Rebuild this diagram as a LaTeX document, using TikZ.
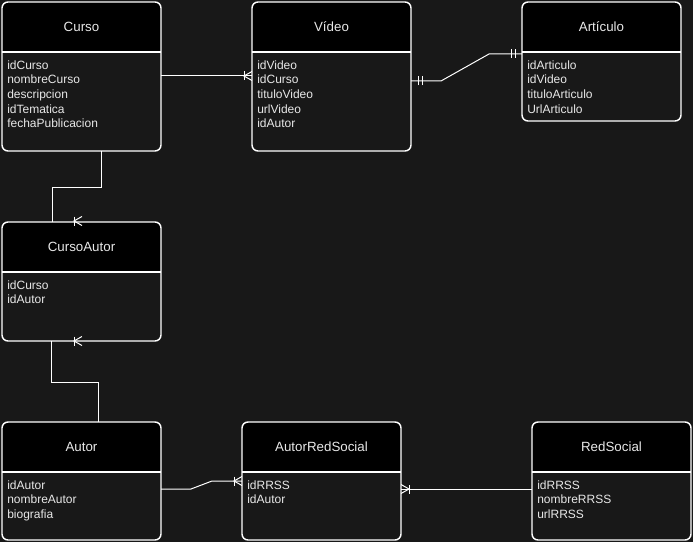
\documentclass[tikz,border=0pt]{standalone}
\usepackage{fontspec}
\setmainfont{Liberation Sans}
\usetikzlibrary{calc}
\definecolor{bgdark}{HTML}{181818}
\definecolor{txtlight}{HTML}{E8E8E8}
\tikzset{
	entbox/.style={minimum width=119.25pt, inner sep=0pt, outer sep=0pt, anchor=north west},
	entline/.style={draw=white, line width=1.1pt, rounded corners=4.5pt},
	enttitle/.style={text=txtlight, font=\fontsize{10}{12}\selectfont, inner sep=0pt},
	entattr/.style={text=txtlight, font=\fontsize{9}{10.9}\selectfont, align=left, inner sep=0pt, anchor=north west},
	rel/.style={draw=white, line width=0.75pt},
	pics/onemany/.style={code={\draw[rel] (-8,-4.5) -- (-8,4.5); \draw[rel] (0,-4.5) -- (-8,0) -- (0,4.5);}},
	pics/mandone/.style={code={\draw[rel] (-7,-4.5) -- (-7,4.5); \draw[rel] (-11,-4.5) -- (-11,4.5);}}
}
% #1 name, #2 x, #3 y, #4 height (px), #5 title, #6 attributes
\newcommand{\entity}[6]{
	\node[entbox, minimum height=#4*0.75pt] (#1) at (#2,#3) {};
	\fill[bgdark, rounded corners=4.5pt] (#1.north west) rectangle (#1.south east);
	\begin{scope}
		\clip[rounded corners=4.5pt] (#1.north west) rectangle (#1.south east);
		\fill[black] (#1.north west) rectangle ($(#1.north east)+(0,50)$);
	\end{scope}
	\draw[entline] (#1.north west) rectangle (#1.south east);
	\draw[white, line width=1.1pt] ($(#1.north west)+(0,50)$) -- ($(#1.north east)+(0,50)$);
	\node[enttitle] (#1-title) at ($(#1.north)+(0,25)$) {#5};
	\node[entattr] (#1-attrs) at ($(#1.north west)+(5,58.5)$) {#6};
}

\begin{document}
\begin{tikzpicture}[x=0.75pt, y=-0.75pt]
	%%%%% START %%%%%
	\fill[bgdark] (0,0) rectangle (693,542);
	\useasboundingbox (0,0) rectangle (693,542);

	\entity{curso}{2}{2}{149}{Curso}{idCurso\\nombreCurso\\descripcion\\idTematica\\fechaPublicacion}
	\entity{video}{252}{2}{149}{Vídeo}{idVideo\\idCurso\\tituloVideo\\urlVideo\\idAutor}
	\entity{articulo}{522}{2}{119}{Artículo}{idArticulo\\idVideo\\tituloArticulo\\UrlArticulo}
	\entity{cursoautor}{2}{222}{119}{CursoAutor}{idCurso\\idAutor}
	\entity{autor}{2}{422}{118}{Autor}{idAutor\\nombreAutor\\biografia}
	\entity{autorred}{242}{422}{118}{AutorRedSocial}{idRRSS\\idAutor}
	\entity{redsocial}{532}{422}{118}{RedSocial}{idRRSS\\nombreRRSS\\urlRRSS}

	% Curso - Video
	\draw[rel] ($(curso.north east)+(0,74)$) -- ($(video.north west)+(0,74)$);
	\pic at ($(video.north west)+(0,74)$) {onemany};

	% Video - Articulo
	\draw[rel] ($(video.north east)+(0,79)$) -- ++(30,0) -- ($(articulo.north west)+(-33,52)$) -- ($(articulo.north west)+(0,52)$);
	\pic[rotate=180] at ($(video.north east)+(0,79)$) {mandone};
	\pic at ($(articulo.north west)+(0,52)$) {mandone};

	% Curso - CursoAutor
	\draw[rel] ($(curso.south)+(19.5,0)$) -- ++(0,36) -| ($(cursoautor.north west)+(50,0)$);
	\pic at ($(cursoautor.north west)+(80,-1)$) {onemany};

	% CursoAutor - Autor
	\draw[rel] ($(cursoautor.south west)+(49,0)$) -- ++(0,41) -| ($(autor.north west)+(96,0)$);
	\pic at ($(cursoautor.south west)+(80,0)$) {onemany};

	% Autor - AutorRedSocial
	\draw[rel] ($(autor.north east)+(0,67)$) -- ++(30,0) -- ($(autorred.north west)+(-30,59)$) -- ($(autorred.north west)+(0,59)$);
	\pic at ($(autorred.north west)+(0,59)$) {onemany};

	% AutorRedSocial - RedSocial
	\draw[rel] ($(redsocial.north west)+(0,67)$) -- ($(autorred.north east)+(0,67)$);
	\pic[rotate=180] at ($(autorred.north east)+(0,67)$) {onemany};
	%%%%% END %%%%%
\end{tikzpicture}
\end{document}
